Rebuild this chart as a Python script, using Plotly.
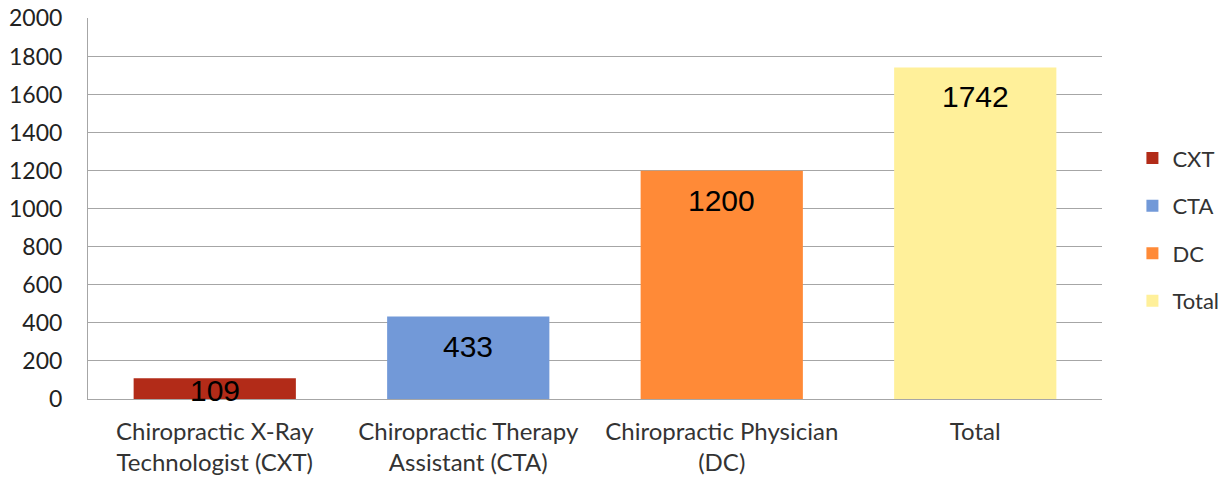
import plotly.graph_objects as go

categories = ["Chiropractic X-Ray<br>Technologist (CXT)",
              "Chiropractic Therapy<br>Assistant (CTA)",
              "Chiropractic Physician<br>(DC)",
              "Total"]
series_names = ["CXT", "CTA", "DC", "Total"]
values = [109, 433, 1200, 1742]
colors = ["#B22B18", "#7299D8", "#FF8A37", "#FFF09A"]
y_ticks = [0, 200, 400, 600, 800, 1000, 1200, 1400, 1600, 1800, 2000]

fig = go.Figure()
for i, (name, cat, val, col) in enumerate(zip(series_names, categories, values, colors)):
    fig.add_trace(go.Bar(
        x=[cat], y=[val], name=name, marker_color=col,
        marker_line_width=0, width=0.64, legendgroup=name,
    ))
    # value label inside the top of the bar
    px_height = val / 2000 * 381
    fig.add_annotation(
        x=cat, y=val, text=str(val), showarrow=False,
        yanchor="top", yshift=-11 if px_height > 60 else 6,
        font=dict(family="Liberation Sans, Arial", size=30, color="#000000"),
    )

fig.update_layout(
    width=1230, height=481,
    margin=dict(l=88, r=128, t=18, b=82, autoexpand=False),
    paper_bgcolor="white", plot_bgcolor="white",
    barmode="overlay",
    showlegend=True,
    legend=dict(
        x=1.03, y=0.687, xanchor="left", yanchor="top",
        font=dict(family="Lato, Calibri, sans-serif", size=22, color="#333333"),
        traceorder="grouped", tracegroupgap=16,
        itemwidth=30,
    ),
    font=dict(family="Lato, Calibri, sans-serif", color="#333333"),
)
fig.update_yaxes(
    range=[0, 2002], tickvals=y_ticks, showgrid=True, gridcolor="#A6A6A6", gridwidth=1,
    showline=True, linecolor="#A6A6A6", linewidth=1, zeroline=False,
    tickfont=dict(family="Lato, Calibri, sans-serif", size=23, color="#222222"),
    ticklabelstandoff=20, automargin=False, ticklabeloverflow="allow",
)
fig.update_xaxes(
    showline=True, linecolor="#A6A6A6", linewidth=1,
    tickfont=dict(family="Lato, Calibri, sans-serif", size=24, color="#333333"),
    ticklabelstandoff=11, automargin=False, ticklabeloverflow="allow",
)

fig.write_html("out.html", config={"displayModeBar": False},
               post_script="document.body.style.margin='0';")
